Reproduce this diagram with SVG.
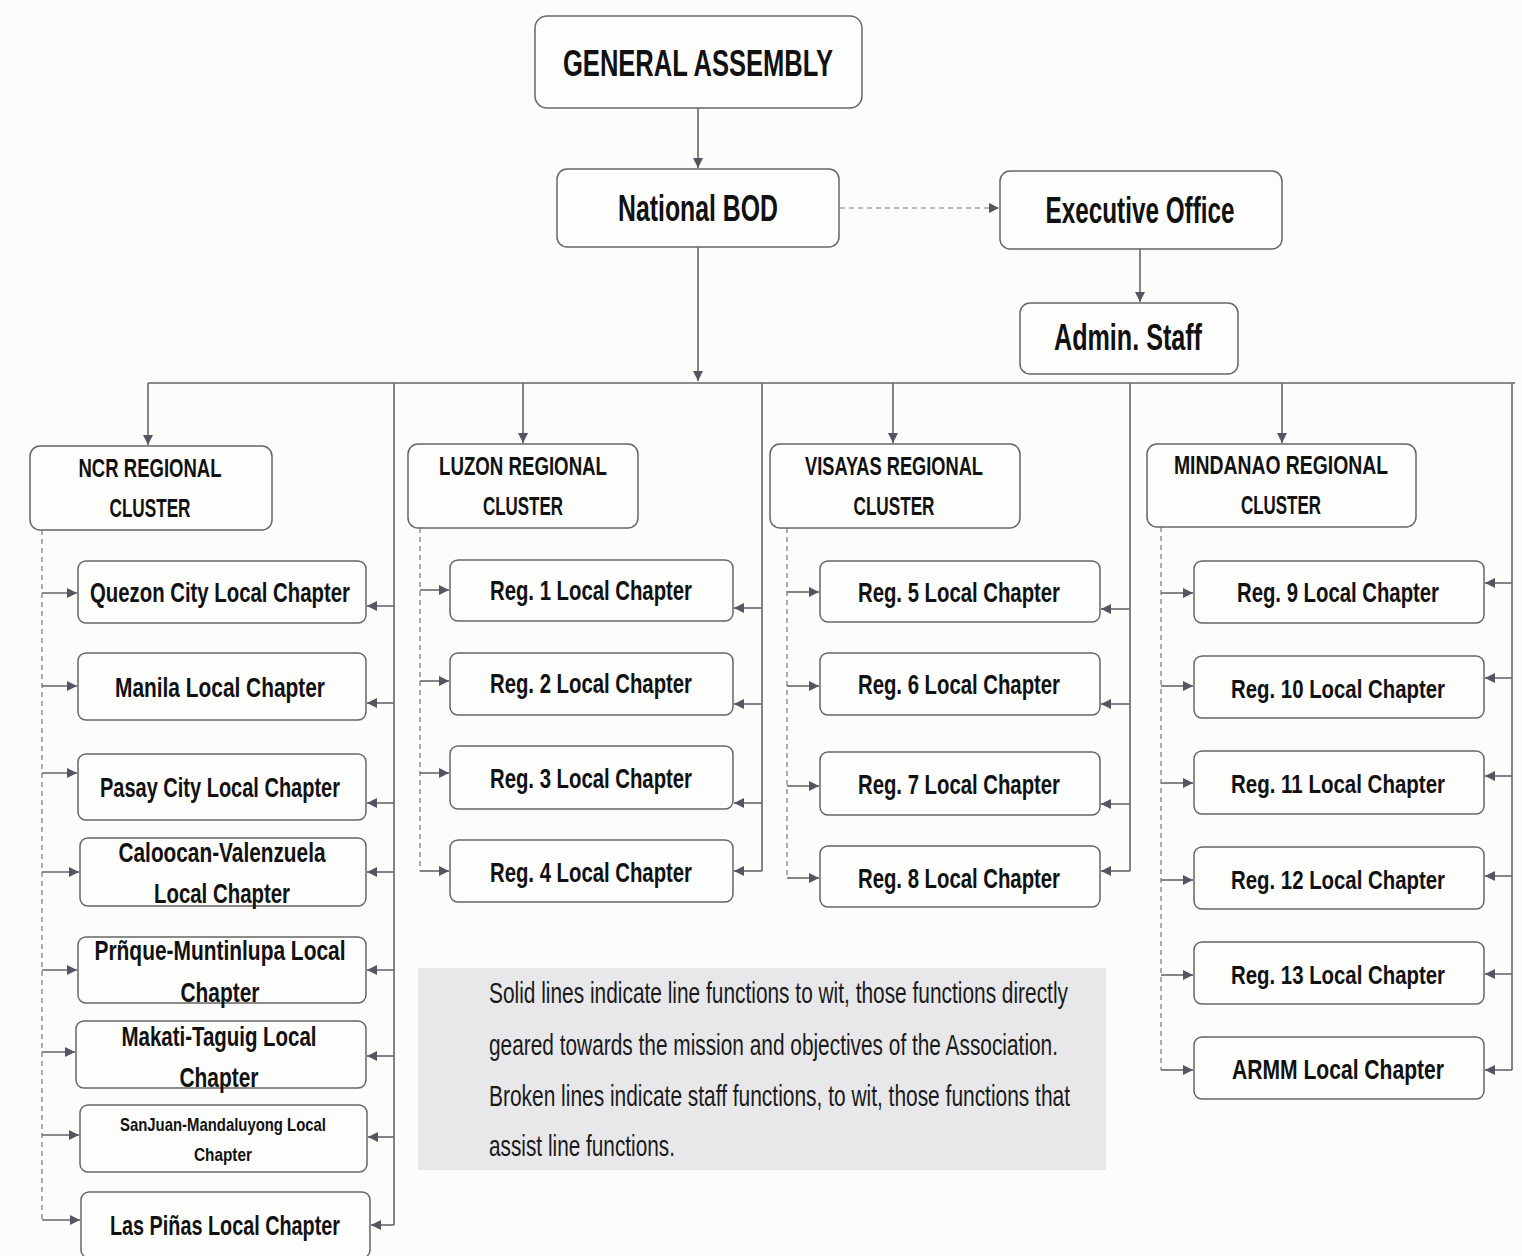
<svg xmlns="http://www.w3.org/2000/svg" width="1522" height="1256" viewBox="0 0 1522 1256">
<style>
.bg{fill:#fcfcfa}
.box{fill:#fdfdfb;stroke:#666;stroke-width:1.5}
.t{font-family:"Liberation Sans Narrow","Liberation Sans",Arial,sans-serif;font-weight:bold;fill:#111;text-anchor:middle}
.c{font-size:28px}
.c2{font-size:26.5px}
.r{font-size:25px}
.big{font-size:37px}
.lg{font-family:"Liberation Sans Narrow","Liberation Sans",Arial,sans-serif;font-size:29px;fill:#1a1a1a}
.ln{stroke:#666;stroke-width:1.6;fill:none}
.dl{stroke:#777;stroke-width:1.2;stroke-dasharray:5 4;fill:none}
</style>
<defs>
<marker id="ah" viewBox="0 0 10 10" refX="10" refY="5" markerWidth="11" markerHeight="10" markerUnits="userSpaceOnUse" orient="auto">
<path d="M0,0 L10,5 L0,10 z" fill="#555562"/>
</marker>
</defs>
<rect class="bg" x="0" y="0" width="1522" height="1256"/>

<g id="connectors">
<line class="ln" x1="698" y1="108" x2="698" y2="168" marker-end="url(#ah)"/>
<line class="dl" x1="840" y1="208" x2="999" y2="208" marker-end="url(#ah)"/>
<line class="ln" x1="1140" y1="249" x2="1140" y2="302" marker-end="url(#ah)"/>
<line class="ln" x1="698" y1="247" x2="698" y2="381" marker-end="url(#ah)"/>
<path class="ln" d="M148,383 H1515"/>
<line class="ln" x1="148" y1="383" x2="148" y2="445" marker-end="url(#ah)"/>
<line class="ln" x1="523" y1="383" x2="523" y2="443" marker-end="url(#ah)"/>
<line class="ln" x1="893" y1="383" x2="893" y2="443" marker-end="url(#ah)"/>
<line class="ln" x1="1282" y1="383" x2="1282" y2="443" marker-end="url(#ah)"/>
<path class="ln" d="M394,383 V1225 M762,383 V871 M1130,383 V871 M1512,383 V1070"/>
<path class="dl" d="M42,530 V1220 M420,528 V871 M787,528 V878 M1161,527 V1070"/>
<!-- NCR -->
<line class="ln" x1="42" y1="593" x2="77" y2="593" marker-end="url(#ah)"/>
<line class="ln" x1="42" y1="686" x2="77" y2="686" marker-end="url(#ah)"/>
<line class="ln" x1="42" y1="773" x2="77" y2="773" marker-end="url(#ah)"/>
<line class="ln" x1="42" y1="872" x2="79" y2="872" marker-end="url(#ah)"/>
<line class="ln" x1="42" y1="970" x2="77" y2="970" marker-end="url(#ah)"/>
<line class="ln" x1="42" y1="1052" x2="75" y2="1052" marker-end="url(#ah)"/>
<line class="ln" x1="42" y1="1135" x2="79" y2="1135" marker-end="url(#ah)"/>
<line class="ln" x1="42" y1="1220" x2="80" y2="1220" marker-end="url(#ah)"/>
<line class="ln" x1="394" y1="606" x2="367" y2="606" marker-end="url(#ah)"/>
<line class="ln" x1="394" y1="703" x2="367" y2="703" marker-end="url(#ah)"/>
<line class="ln" x1="394" y1="803" x2="367" y2="803" marker-end="url(#ah)"/>
<line class="ln" x1="394" y1="872" x2="367" y2="872" marker-end="url(#ah)"/>
<line class="ln" x1="394" y1="970" x2="367" y2="970" marker-end="url(#ah)"/>
<line class="ln" x1="394" y1="1056" x2="367" y2="1056" marker-end="url(#ah)"/>
<line class="ln" x1="394" y1="1137" x2="368" y2="1137" marker-end="url(#ah)"/>
<line class="ln" x1="394" y1="1225" x2="371" y2="1225" marker-end="url(#ah)"/>
<!-- Luzon -->
<line class="ln" x1="420" y1="590" x2="449" y2="590" marker-end="url(#ah)"/>
<line class="ln" x1="420" y1="681" x2="449" y2="681" marker-end="url(#ah)"/>
<line class="ln" x1="420" y1="773" x2="449" y2="773" marker-end="url(#ah)"/>
<line class="ln" x1="420" y1="871" x2="449" y2="871" marker-end="url(#ah)"/>
<line class="ln" x1="762" y1="608" x2="734" y2="608" marker-end="url(#ah)"/>
<line class="ln" x1="762" y1="704" x2="734" y2="704" marker-end="url(#ah)"/>
<line class="ln" x1="762" y1="803" x2="734" y2="803" marker-end="url(#ah)"/>
<line class="ln" x1="762" y1="871" x2="734" y2="871" marker-end="url(#ah)"/>
<!-- Visayas -->
<line class="ln" x1="787" y1="592" x2="819" y2="592" marker-end="url(#ah)"/>
<line class="ln" x1="787" y1="686" x2="819" y2="686" marker-end="url(#ah)"/>
<line class="ln" x1="787" y1="786" x2="819" y2="786" marker-end="url(#ah)"/>
<line class="ln" x1="787" y1="878" x2="819" y2="878" marker-end="url(#ah)"/>
<line class="ln" x1="1130" y1="609" x2="1101" y2="609" marker-end="url(#ah)"/>
<line class="ln" x1="1130" y1="704" x2="1101" y2="704" marker-end="url(#ah)"/>
<line class="ln" x1="1130" y1="804" x2="1101" y2="804" marker-end="url(#ah)"/>
<line class="ln" x1="1130" y1="871" x2="1101" y2="871" marker-end="url(#ah)"/>
<!-- Mindanao -->
<line class="ln" x1="1161" y1="593" x2="1193" y2="593" marker-end="url(#ah)"/>
<line class="ln" x1="1161" y1="686" x2="1193" y2="686" marker-end="url(#ah)"/>
<line class="ln" x1="1161" y1="783" x2="1193" y2="783" marker-end="url(#ah)"/>
<line class="ln" x1="1161" y1="880" x2="1193" y2="880" marker-end="url(#ah)"/>
<line class="ln" x1="1161" y1="975" x2="1193" y2="975" marker-end="url(#ah)"/>
<line class="ln" x1="1161" y1="1070" x2="1193" y2="1070" marker-end="url(#ah)"/>
<line class="ln" x1="1512" y1="583" x2="1485" y2="583" marker-end="url(#ah)"/>
<line class="ln" x1="1512" y1="678" x2="1485" y2="678" marker-end="url(#ah)"/>
<line class="ln" x1="1512" y1="776" x2="1485" y2="776" marker-end="url(#ah)"/>
<line class="ln" x1="1512" y1="876" x2="1485" y2="876" marker-end="url(#ah)"/>
<line class="ln" x1="1512" y1="974" x2="1485" y2="974" marker-end="url(#ah)"/>
<line class="ln" x1="1512" y1="1070" x2="1485" y2="1070" marker-end="url(#ah)"/>
</g>

<g id="general-assembly"><rect class="box" x="535" y="16" width="327" height="92" rx="12"/><text class="t big" x="698" y="76" textLength="270" lengthAdjust="spacingAndGlyphs">GENERAL ASSEMBLY</text></g>
<g id="national-bod"><rect class="box" x="557" y="169" width="282" height="78" rx="10"/><text class="t big" x="698" y="221" textLength="160" lengthAdjust="spacingAndGlyphs">National BOD</text></g>
<g id="executive-office"><rect class="box" x="1000" y="171" width="282" height="78" rx="10"/><text class="t big" x="1140" y="223" textLength="189" lengthAdjust="spacingAndGlyphs">Executive Office</text></g>
<g id="admin-staff"><rect class="box" x="1020" y="303" width="218" height="71" rx="10"/><text class="t big" x="1128" y="350" textLength="148" lengthAdjust="spacingAndGlyphs">Admin. Staff</text></g>

<g id="ncr-cluster"><rect class="box" x="30" y="446" width="242" height="84" rx="10"/><text class="t r" x="150" y="477" textLength="143" lengthAdjust="spacingAndGlyphs">NCR REGIONAL</text><text class="t r" x="150" y="517" textLength="81" lengthAdjust="spacingAndGlyphs">CLUSTER</text></g>
<g id="luzon-cluster"><rect class="box" x="408" y="444" width="230" height="84" rx="10"/><text class="t r" x="523" y="475" textLength="168" lengthAdjust="spacingAndGlyphs">LUZON REGIONAL</text><text class="t r" x="523" y="515" textLength="80" lengthAdjust="spacingAndGlyphs">CLUSTER</text></g>
<g id="visayas-cluster"><rect class="box" x="770" y="444" width="250" height="84" rx="10"/><text class="t r" x="894" y="475" textLength="178" lengthAdjust="spacingAndGlyphs">VISAYAS REGIONAL</text><text class="t r" x="894" y="515" textLength="81" lengthAdjust="spacingAndGlyphs">CLUSTER</text></g>
<g id="mindanao-cluster"><rect class="box" x="1147" y="444" width="269" height="83" rx="10"/><text class="t r" x="1281" y="474" textLength="214" lengthAdjust="spacingAndGlyphs">MINDANAO REGIONAL</text><text class="t r" x="1281" y="514" textLength="80" lengthAdjust="spacingAndGlyphs">CLUSTER</text></g>

<g id="quezon-city"><rect class="box" x="78" y="561" width="288" height="62" rx="8"/><text class="t c" x="220" y="602" textLength="260" lengthAdjust="spacingAndGlyphs">Quezon City Local Chapter</text></g>
<g id="manila"><rect class="box" x="78" y="653" width="288" height="67" rx="8"/><text class="t c" x="220" y="697" textLength="210" lengthAdjust="spacingAndGlyphs">Manila Local Chapter</text></g>
<g id="pasay-city"><rect class="box" x="78" y="754" width="288" height="66" rx="8"/><text class="t c" x="220" y="797" textLength="240" lengthAdjust="spacingAndGlyphs">Pasay City Local Chapter</text></g>
<g id="caloocan-valenzuela"><rect class="box" x="80" y="838" width="286" height="68" rx="8"/><text class="t c" x="222" y="862" textLength="207" lengthAdjust="spacingAndGlyphs">Caloocan-Valenzuela</text><text class="t c" x="222" y="903" textLength="136" lengthAdjust="spacingAndGlyphs">Local Chapter</text></g>
<g id="pranaque-muntinlupa"><rect class="box" x="78" y="937" width="288" height="66" rx="8"/><text class="t c" x="220" y="960" textLength="251" lengthAdjust="spacingAndGlyphs">Prñque-Muntinlupa Local</text><text class="t c" x="220" y="1002" textLength="79" lengthAdjust="spacingAndGlyphs">Chapter</text></g>
<g id="makati-taguig"><rect class="box" x="76" y="1021" width="290" height="67" rx="8"/><text class="t c" x="219" y="1046" textLength="195" lengthAdjust="spacingAndGlyphs">Makati-Taguig Local</text><text class="t c" x="219" y="1087" textLength="79" lengthAdjust="spacingAndGlyphs">Chapter</text></g>
<g id="sanjuan-mandaluyong"><rect class="box" x="80" y="1105" width="287" height="67" rx="8"/><text class="t" style="font-size:19px" x="223" y="1131" textLength="206" lengthAdjust="spacingAndGlyphs">SanJuan-Mandaluyong Local</text><text class="t" style="font-size:19px" x="223" y="1161" textLength="58" lengthAdjust="spacingAndGlyphs">Chapter</text></g>
<g id="las-pinas"><rect class="box" x="81" y="1192" width="289" height="66" rx="8"/><text class="t c" x="225" y="1235" textLength="230" lengthAdjust="spacingAndGlyphs">Las Piñas Local Chapter</text></g>

<g id="reg1"><rect class="box" x="450" y="560" width="283" height="61" rx="8"/><text class="t c" x="591" y="600" textLength="202" lengthAdjust="spacingAndGlyphs">Reg. 1 Local Chapter</text></g>
<g id="reg2"><rect class="box" x="450" y="653" width="283" height="62" rx="8"/><text class="t c" x="591" y="693" textLength="202" lengthAdjust="spacingAndGlyphs">Reg. 2 Local Chapter</text></g>
<g id="reg3"><rect class="box" x="450" y="746" width="283" height="63" rx="8"/><text class="t c" x="591" y="788" textLength="202" lengthAdjust="spacingAndGlyphs">Reg. 3 Local Chapter</text></g>
<g id="reg4"><rect class="box" x="450" y="840" width="283" height="62" rx="8"/><text class="t c" x="591" y="882" textLength="202" lengthAdjust="spacingAndGlyphs">Reg. 4 Local Chapter</text></g>

<g id="reg5"><rect class="box" x="820" y="561" width="280" height="61" rx="8"/><text class="t c" x="959" y="602" textLength="202" lengthAdjust="spacingAndGlyphs">Reg. 5 Local Chapter</text></g>
<g id="reg6"><rect class="box" x="820" y="653" width="280" height="62" rx="8"/><text class="t c" x="959" y="694" textLength="202" lengthAdjust="spacingAndGlyphs">Reg. 6 Local Chapter</text></g>
<g id="reg7"><rect class="box" x="820" y="752" width="280" height="63" rx="8"/><text class="t c" x="959" y="794" textLength="202" lengthAdjust="spacingAndGlyphs">Reg. 7 Local Chapter</text></g>
<g id="reg8"><rect class="box" x="820" y="846" width="280" height="61" rx="8"/><text class="t c" x="959" y="888" textLength="202" lengthAdjust="spacingAndGlyphs">Reg. 8 Local Chapter</text></g>

<g id="reg9"><rect class="box" x="1194" y="561" width="290" height="62" rx="8"/><text class="t c" x="1338" y="602" textLength="202" lengthAdjust="spacingAndGlyphs">Reg. 9 Local Chapter</text></g>
<g id="reg10"><rect class="box" x="1194" y="656" width="290" height="62" rx="8"/><text class="t c2" x="1338" y="698" textLength="214" lengthAdjust="spacingAndGlyphs">Reg. 10 Local Chapter</text></g>
<g id="reg11"><rect class="box" x="1194" y="751" width="290" height="63" rx="8"/><text class="t c2" x="1338" y="793" textLength="214" lengthAdjust="spacingAndGlyphs">Reg. 11 Local Chapter</text></g>
<g id="reg12"><rect class="box" x="1194" y="847" width="290" height="62" rx="8"/><text class="t c2" x="1338" y="889" textLength="214" lengthAdjust="spacingAndGlyphs">Reg. 12 Local Chapter</text></g>
<g id="reg13"><rect class="box" x="1194" y="942" width="290" height="62" rx="8"/><text class="t c2" x="1338" y="984" textLength="214" lengthAdjust="spacingAndGlyphs">Reg. 13 Local Chapter</text></g>
<g id="armm"><rect class="box" x="1194" y="1037" width="290" height="62" rx="8"/><text class="t c" x="1338" y="1079" textLength="212" lengthAdjust="spacingAndGlyphs">ARMM Local Chapter</text></g>

<g id="legend">
<rect x="418" y="968" width="688" height="202" fill="#e8e8eb"/>
<text class="lg" x="489" y="1003" textLength="579" lengthAdjust="spacingAndGlyphs">Solid lines indicate line functions to wit, those functions directly</text>
<text class="lg" x="489" y="1055" textLength="569" lengthAdjust="spacingAndGlyphs">geared towards the mission and objectives of the Association.</text>
<text class="lg" x="489" y="1106" textLength="581" lengthAdjust="spacingAndGlyphs">Broken lines indicate staff functions, to wit, those functions that</text>
<text class="lg" x="489" y="1156" textLength="186" lengthAdjust="spacingAndGlyphs">assist line functions.</text>
</g>
</svg>
